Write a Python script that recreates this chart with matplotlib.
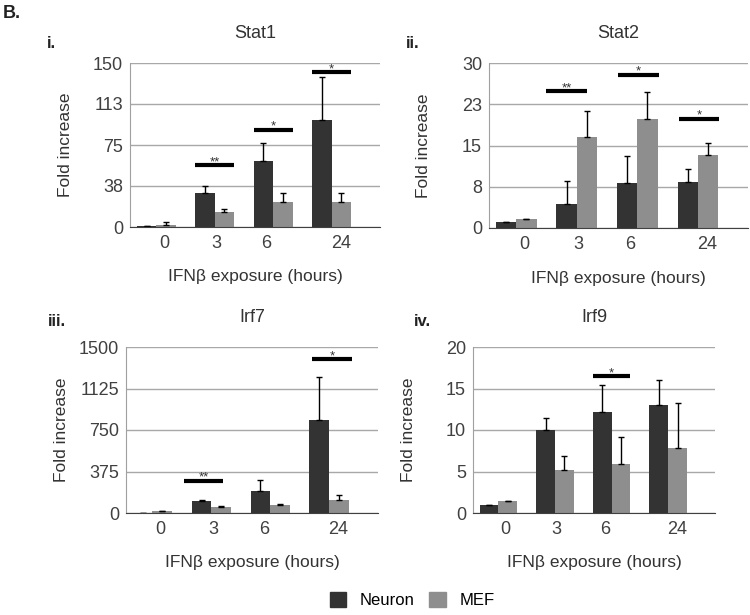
# libraries
import matplotlib.pyplot as plt
from matplotlib.patches import Patch
import numpy as np

plt.rcParams['font.family'] = ['Liberation Sans', 'DejaVu Sans']

# data
hours = ['0', '3', '6', '24']

stat1_neuron = [1, 31, 60, 98]
stat1_neuron_err = [0.3, 6.7, 16.8, 39.6]
stat1_mef = [1.8, 14, 23, 23]
stat1_mef_err = [2.5, 2.2, 8.2, 8.2]
stat1_yticks = [0, 37.5, 75, 112.5, 150]
stat1_ylabels = ['0', '38', '75', '113', '150']
stat1_sig_groups = [1, 2, 3]
stat1_sig_heights = [56.4, 89, 141.5]
stat1_sig_labels = ['**', '*', '*']

stat2_neuron = [1.1, 4.4, 8.1, 8.3]
stat2_neuron_err = [0, 4.1, 5.0, 2.4]
stat2_mef = [1.7, 16.6, 19.9, 13.2]
stat2_mef_err = [0, 4.7, 4.8, 2.2]
stat2_yticks = [0, 7.5, 15, 22.5, 30]
stat2_ylabels = ['0', '8', '15', '23', '30']
stat2_sig_groups = [1, 2, 3]
stat2_sig_heights = [24.9, 27.9, 19.9]
stat2_sig_labels = ['**', '*', '*']

irf7_neuron = [1, 109, 197, 840]
irf7_neuron_err = [0, 12, 105, 388]
irf7_mef = [15, 51, 70, 121]
irf7_mef_err = [0, 9, 9, 39]
irf7_yticks = [0, 375, 750, 1125, 1500]
irf7_ylabels = ['0', '375', '750', '1125', '1500']
irf7_sig_groups = [1, 3]
irf7_sig_heights = [290, 1391]
irf7_sig_labels = ['**', '*']

irf9_neuron = [1.0, 10.0, 12.2, 13.0]
irf9_neuron_err = [0, 1.5, 3.2, 3.0]
irf9_mef = [1.45, 5.24, 5.9, 7.8]
irf9_mef_err = [0, 1.66, 3.3, 5.5]
irf9_yticks = [0, 5, 10, 15, 20]
irf9_ylabels = ['0', '5', '10', '15', '20']
irf9_sig_groups = [2]
irf9_sig_heights = [16.5]
irf9_sig_labels = ['*']

# style
W, H = 750, 615
neuron_color = '#333333'
mef_color = '#8e8e8e'
text_color = '#404040'
tick_offsets = [0.13, 0.03, -0.11, 0.16]


def px_rect(left, right, top, bottom):
    return [left / W, 1 - bottom / H, (right - left) / W, (bottom - top) / H]


fig = plt.figure(figsize=(W / 100, H / 100), dpi=100)


def draw_panel(rect, numeral, numeral_xy, title, neuron, neuron_err, mef, mef_err,
               yticks, ylabels, sig_groups, sig_heights, sig_labels, sig_shift=None):
    ax = fig.add_axes(px_rect(*rect))
    x = np.arange(len(hours))
    w = 0.335
    ekw = dict(ecolor='black', elinewidth=1, capsize=2.5, capthick=1)
    ax.bar(x - w / 2, neuron, w, color=neuron_color,
           yerr=[np.zeros(len(neuron)), neuron_err], error_kw=ekw, zorder=2)
    ax.bar(x + w / 2, mef, w, color=mef_color,
           yerr=[np.zeros(len(mef)), mef_err], error_kw=ekw, zorder=2)

    # significance bars
    shift = sig_shift or [0] * len(sig_groups)
    for g, h, lab, dx in zip(sig_groups, sig_heights, sig_labels, shift):
        ax.plot([g - w + dx, g + w + dx], [h, h],
                color='black', lw=3, solid_capstyle='butt', zorder=3)
        ax.annotate(lab, (g + dx, h), xytext=(0, 0), textcoords='offset points',
                    ha='center', va='baseline', fontsize=9.5, color='#333333')

    ax.set_xlim(-0.45, 3.83)
    ax.set_ylim(yticks[0], yticks[-1])
    ax.set_yticks(yticks)
    ax.set_yticklabels(ylabels)
    ax.set_xticks(x + np.array(tick_offsets))
    ax.set_xticklabels(hours)
    ax.tick_params(axis='both', length=0, labelsize=13, labelcolor=text_color)
    ax.tick_params(axis='x', pad=6)
    ax.tick_params(axis='y', pad=5)
    ax.yaxis.grid(True, color='#a8a8a8', lw=1)
    ax.set_axisbelow(True)
    for s in ['top', 'right']:
        ax.spines[s].set_visible(False)
    ax.spines['left'].set_color('#a0a0a0')
    ax.spines['bottom'].set_color('#404040')

    h_px = rect[3] - rect[2]
    w_px = rect[1] - rect[0]
    ax.set_title(title, y=1 + 30 / h_px, pad=0, va='center', fontsize=13, color='#333333')
    ax.set_xlabel('IFNβ exposure (hours)', fontsize=12.5, color='#333333', va='center')
    ax.xaxis.set_label_coords(0.5, -50 / h_px)
    ax.set_ylabel('Fold increase', fontsize=12.5, color='#333333', va='center')
    ax.yaxis.set_label_coords(-65 / w_px, 0.5)

    fig.text(numeral_xy[0] / W, 1 - numeral_xy[1] / H, numeral, fontsize=12,
             fontweight='bold', ha='left', va='center', color='#222222')
    return ax


draw_panel((130, 380, 63, 227), 'i.', (47, 43), 'Stat1',
           stat1_neuron, stat1_neuron_err, stat1_mef, stat1_mef_err,
           stat1_yticks, stat1_ylabels, stat1_sig_groups, stat1_sig_heights, stat1_sig_labels)
draw_panel((489, 748, 63, 228), 'ii.', (406, 43), 'Stat2',
           stat2_neuron, stat2_neuron_err, stat2_mef, stat2_mef_err,
           stat2_yticks, stat2_ylabels, stat2_sig_groups, stat2_sig_heights, stat2_sig_labels,
           sig_shift=[-0.17, 0.02, 0.02])
draw_panel((126, 378, 347, 513), 'iii.', (48, 321), 'Irf7',
           irf7_neuron, irf7_neuron_err, irf7_mef, irf7_mef_err,
           irf7_yticks, irf7_ylabels, irf7_sig_groups, irf7_sig_heights, irf7_sig_labels,
           sig_shift=[-0.13, 0.05])
draw_panel((473, 715, 347, 513), 'iv.', (414, 321), 'Irf9',
           irf9_neuron, irf9_neuron_err, irf9_mef, irf9_mef_err,
           irf9_yticks, irf9_ylabels, irf9_sig_groups, irf9_sig_heights, irf9_sig_labels)

fig.text(3 / W, 1 - 13 / H, 'B.', fontsize=13, fontweight='bold',
         ha='left', va='center', color='#222222')

# legend
handles = [Patch(color=neuron_color, label='Neuron'), Patch(color=mef_color, label='MEF')]
fig.legend(handles=handles, loc='center', bbox_to_anchor=(412 / W, 1 - 600 / H),
           ncol=2, frameon=False, fontsize=12, handlelength=1.0, handleheight=1.0,
           handletextpad=0.8, columnspacing=0.9)

fig.savefig('out.png', dpi=100)
